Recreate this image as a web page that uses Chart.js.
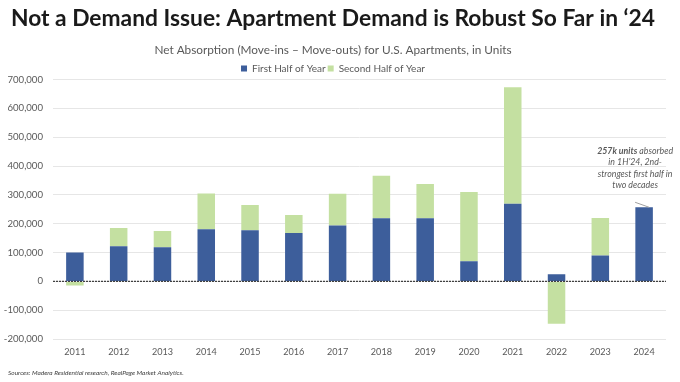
<!DOCTYPE html>
<html>
<head>
<meta charset="utf-8">
<script src="https://cdn.jsdelivr.net/npm/chart.js@4"></script>
<style>
  html, body { margin: 0; padding: 0; background: #fff; }
  #wrap { width: 680px; height: 382px; position: relative; }
</style>
</head>
<body>
<div id="wrap"><canvas id="myChart" width="680" height="382"></canvas></div>
<script>
const years = ["2011", "2012", "2013", "2014", "2015", "2016", "2017", "2018", "2019", "2020", "2021", "2022", "2023", "2024"];
const firstHalf = [100000, 122000, 118000, 181000, 177000, 168000, 194000, 219000, 219000, 70000, 269000, 25000, 90000, 257000];
const secondHalf = [-14000, 63000, 57000, 124000, 88000, 62000, 110000, 147000, 119000, 240000, 404000, -147000, 130000, null];
const yTicks = [-200000, -100000, 0, 100000, 200000, 300000, 400000, 500000, 600000, 700000];

const titleText = "Not a Demand Issue: Apartment Demand is Robust So Far in \u201824";
const subtitleText = "Net Absorption (Move-ins \u2013 Move-outs) for U.S. Apartments, in Units";
const noteLines = ["in 1H\u201924, 2nd-", "strongest first half in", "two decades"];
const sourceText = "Sources: Madera Residential research, RealPage Market Analytics.";

const blue = "#3d5e9b";
const green = "#c4e0a1";
const grey = "#595959";
const fontName = "'Lato', sans-serif";

// pick a font size so a text gets the width it has in the picture
const measureCtx = document.createElement("canvas").getContext("2d");
function fitSize(text, style, width) {
  measureCtx.font = style + " 100px " + fontName;
  return Math.round((100 * width) / measureCtx.measureText(text).width * 10) / 10;
}

const titleSize = fitSize(titleText, "bold", 644);
const subtitleSize = fitSize(subtitleText, "normal", 357);
const yTickSize = fitSize("700,000", "normal", 35.5);
const xTickSize = fitSize("2011", "normal", 21);
const noteSize = fitSize(noteLines[1], "italic", 75);

// dotted zero line, note on 2024 and the source line
const extras = {
  id: "extras",
  afterLayout(chart) {
    // legend sits a little lower, closer to the plot
    chart.legend.top += 4;
    chart.legend.bottom += 4;
  },
  afterDatasetsDraw(chart) {
    const ctx = chart.ctx;
    const x = chart.scales.x;
    const y = chart.scales.y;
    const zero = y.getPixelForValue(0);

    ctx.save();
    ctx.strokeStyle = "#404040";
    ctx.lineWidth = 1.2;
    ctx.setLineDash([2, 1]);
    ctx.beginPath();
    ctx.moveTo(x.left, zero);
    ctx.lineTo(x.right, zero);
    ctx.stroke();
    ctx.setLineDash([]);

    // note for 2024
    const bx = x.getPixelForValue(13);
    const by = y.getPixelForValue(firstHalf[13]);
    ctx.strokeStyle = "#a0a0a0";
    ctx.lineWidth = 1;
    ctx.beginPath();
    ctx.moveTo(bx - 9, by - 5);
    ctx.lineTo(bx + 5, by);
    ctx.stroke();

    const cx = bx - 9;
    const top = by - 56;
    ctx.fillStyle = grey;
    ctx.textBaseline = "middle";
    ctx.textAlign = "left";
    ctx.font = "italic bold " + noteSize + "px " + fontName;
    const boldPart = "257k units";
    const restPart = " absorbed";
    const w1 = ctx.measureText(boldPart).width;
    ctx.font = "italic " + noteSize + "px " + fontName;
    const w2 = ctx.measureText(restPart).width;
    const sx = cx - (w1 + w2) / 2;
    ctx.font = "italic bold " + noteSize + "px " + fontName;
    ctx.fillText(boldPart, sx, top);
    ctx.font = "italic " + noteSize + "px " + fontName;
    ctx.fillText(restPart, sx + w1, top);
    ctx.textAlign = "center";
    noteLines.forEach((line, i) => {
      ctx.fillText(line, cx, top + 11.2 * (i + 1));
    });

    // sources
    ctx.textAlign = "left";
    ctx.font = "italic 6.5px " + fontName;
    ctx.fillStyle = "#404040";
    ctx.fillText(sourceText, 8, 373);
    ctx.restore();
  }
};

const ctx = document.getElementById("myChart").getContext("2d");

new Chart(ctx, {
  type: "bar",
  data: {
    labels: years,
    datasets: [
      {
        label: "First Half of Year",
        data: firstHalf,
        backgroundColor: blue,
        borderWidth: 0,
        categoryPercentage: 0.8,
        barPercentage: 0.5,
      },
      {
        label: "Second Half of Year",
        data: secondHalf,
        backgroundColor: green,
        borderWidth: 0,
        categoryPercentage: 0.8,
        barPercentage: 0.5,
      },
    ],
  },
  options: {
    responsive: false,
    animation: false,
    layout: {
      padding: { left: 0, right: 14, top: 0, bottom: 24 },
    },
    plugins: {
      title: {
        display: true,
        text: titleText,
        color: "#1a1a1a",
        font: { family: fontName, size: titleSize, weight: "bold" },
        padding: { top: 5, bottom: 11 },
      },
      subtitle: {
        display: true,
        text: subtitleText,
        color: grey,
        font: { family: fontName, size: subtitleSize },
        padding: { top: 0, bottom: 0 },
      },
      legend: {
        display: true,
        labels: {
          color: grey,
          font: { family: fontName, size: 10 },
          boxWidth: 6,
          boxHeight: 6,
          padding: 2,
        },
      },
      tooltip: { enabled: false },
    },
    scales: {
      x: {
        stacked: true,
        grid: { display: false },
        border: { display: false },
        ticks: {
          color: grey,
          font: { family: fontName, size: xTickSize },
          padding: 0,
        },
      },
      y: {
        stacked: true,
        min: -200000,
        max: 700000,
        afterBuildTicks: (axis) => {
          axis.ticks = yTicks.map((v) => ({ value: v }));
        },
        afterFit: (axis) => {
          axis.width = 53;
          axis.paddingTop = 0;
          axis.paddingBottom = 0;
        },
        grid: { color: "#e6e6e6", drawTicks: false },
        border: { display: false },
        ticks: {
          color: grey,
          font: { family: fontName, size: yTickSize },
          padding: 10,
          callback: function (value) {
            return value.toLocaleString("en-US");
          },
        },
      },
    },
  },
  plugins: [extras],
});
</script>
</body>
</html>
